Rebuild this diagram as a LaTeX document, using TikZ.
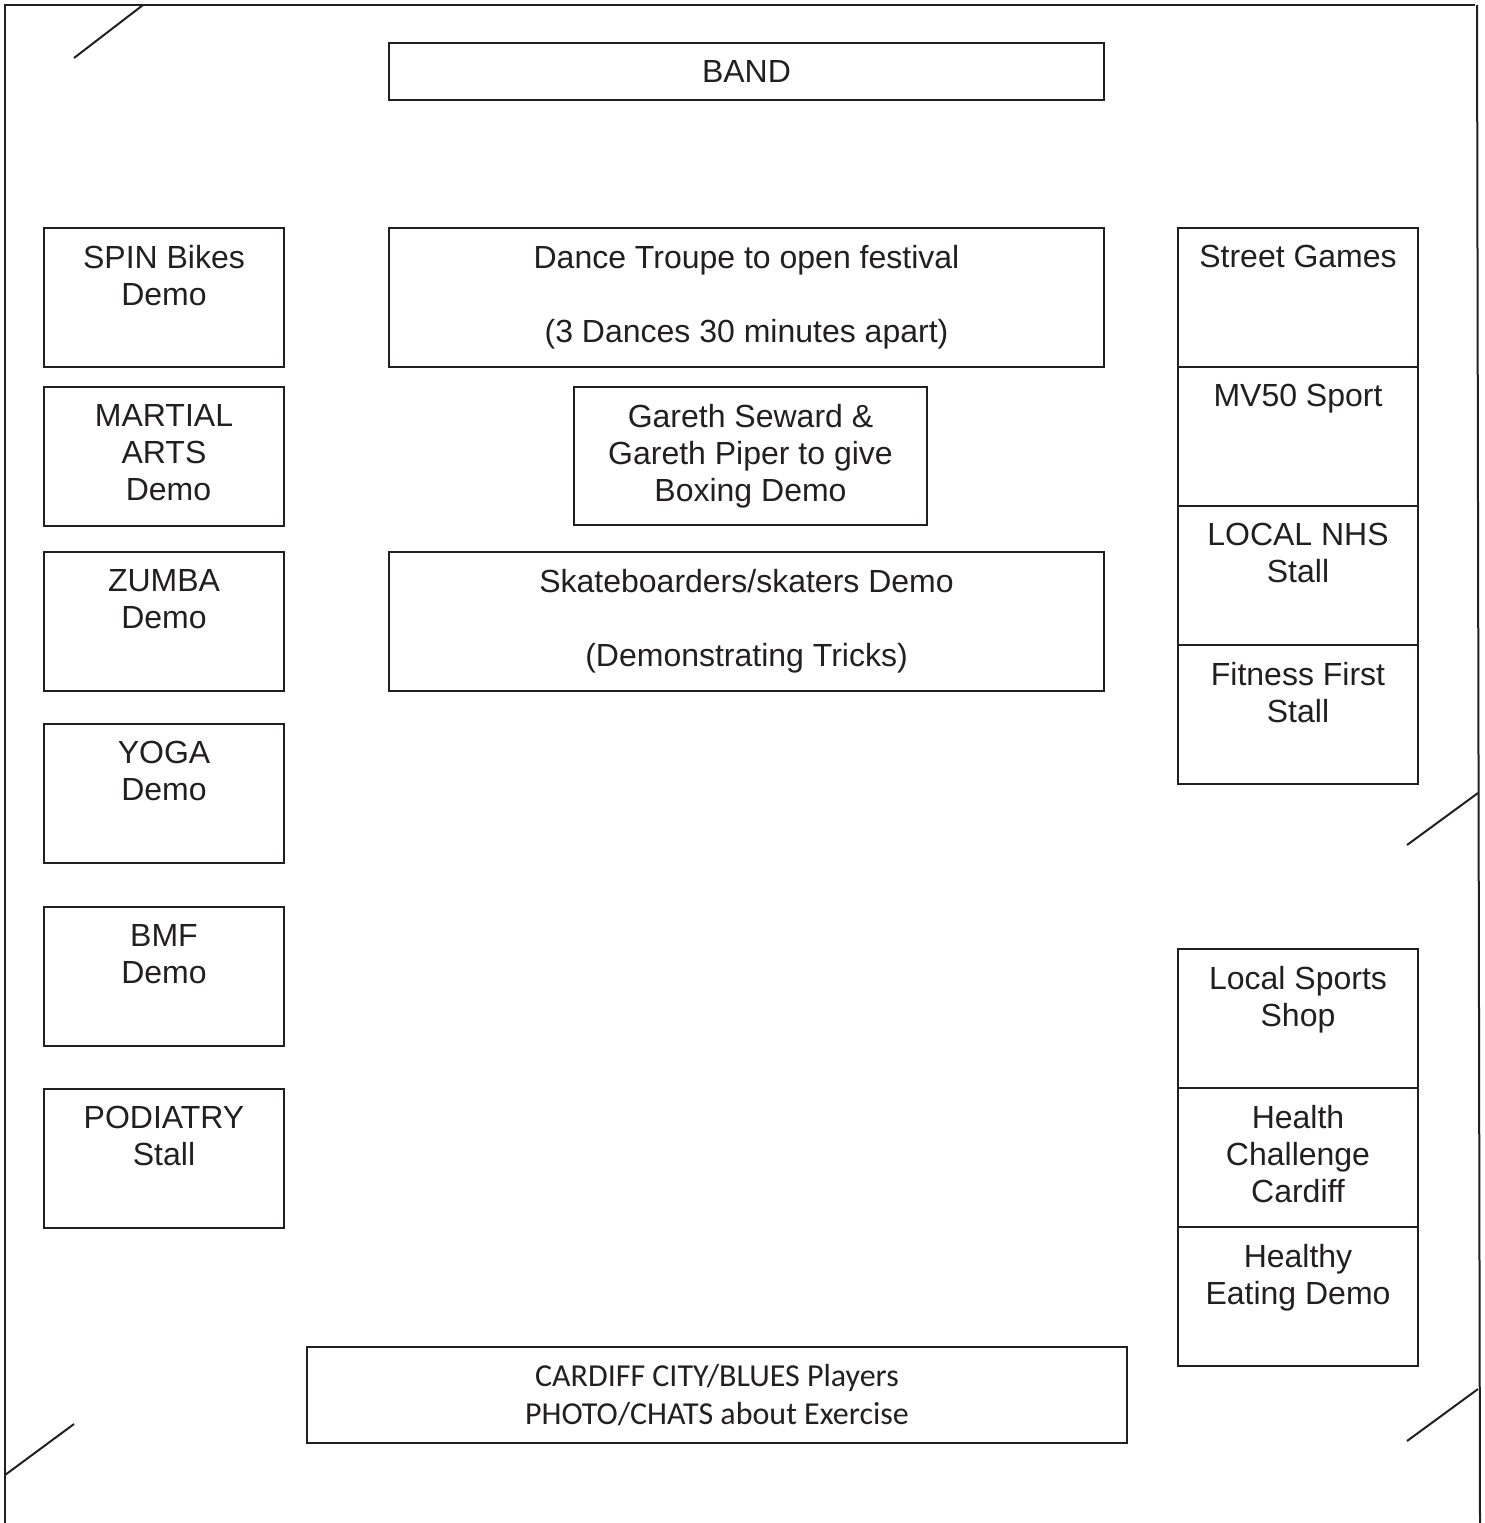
\documentclass[tikz,border=0pt]{standalone}
\usepackage{fontspec}
\setmainfont{Liberation Sans}
\newfontfamily\calibrifont{Carlito}
\usepackage{tikz}
\usetikzlibrary{positioning}
\definecolor{ink}{RGB}{35,31,32}

\begin{document}
\begin{tikzpicture}[x=1pt, y=-1pt, line width=2pt, draw=ink, text=ink,
                    stall/.style={draw, anchor=north west, minimum width=240pt, minimum height=139pt, inner sep=0},
                    wide/.style={draw, anchor=north west, minimum width=715pt, minimum height=139pt, inner sep=0},
                    stalltext/.style={align=center, inner sep=0, font=\fontsize{32}{37}\selectfont}
                    ]
        \useasboundingbox (0,0) rectangle (1484,1523);
        % field edges and entrances
        \draw (5,1523) -- (5,5) -- (1475,5);
        \draw (1477,5) -- (1480,1523);
        \draw (74,58) -- (143,5);
        \draw (1407,845) -- (1478,793);
        \draw (5,1475) -- (74,1424);
        \draw (1407,1441) -- (1478,1389);

        % left column
        \foreach \id/\top/\txt in {spin/227/{SPIN Bikes\\Demo},
                                   martial/386/{MARTIAL\\ARTS\\\hspace*{.28em}Demo},
                                   zumba/551/{ZUMBA\\Demo},
                                   yoga/723/{YOGA\\Demo},
                                   bmf/906/{BMF\\Demo},
                                   podiatry/1088/{PODIATRY\\Stall}} {
            \node[stall] (\id) at (43,\top) {};
            \node[stalltext, below=17pt of \id.north] (\id-t) {\txt};
        }

        % right column
        \foreach \id/\top/\txt in {games/227/{Street Games},
                                   mvsport/366/{MV50 Sport},
                                   nhs/505/{LOCAL NHS\\Stall},
                                   fitness/644/{Fitness First\\Stall},
                                   shop/948/{Local Sports\\Shop},
                                   challenge/1087/{Health\\Challenge\\Cardiff},
                                   eating/1226/{Healthy\\Eating Demo}} {
            \node[stall] (\id) at (1177,\top) {};
            \node[stalltext, below=17pt of \id.north] (\id-t) {\txt};
        }

        % middle
        \node[wide, minimum height=57pt, stalltext] (band) at (388,42) {BAND};
        \node[wide] (dance) at (388,227) {};
        \node[stalltext, below=17pt of dance.north] (dance-t)
            {Dance Troupe to open festival\\[37pt](3 Dances 30 minutes apart)};
        \node[stall, minimum width=353pt, minimum height=138pt] (boxing) at (573,386) {};
        \node[stalltext, below=17pt of boxing.north] (boxing-t)
            {Gareth Seward \&\\Gareth Piper to give\\Boxing Demo};
        \node[wide] (skate) at (388,551) {};
        \node[stalltext, below=17pt of skate.north] (skate-t)
            {Skateboarders/skaters Demo\\[37pt](Demonstrating Tricks)};

        \node[stall, minimum width=820pt, minimum height=96pt, align=center,
              font=\calibrifont\fontsize{32}{38}\selectfont] (players) at (306,1346)
            {CARDIFF CITY/BLUES Players\\PHOTO/CHATS about Exercise};
\end{tikzpicture}
\end{document}
